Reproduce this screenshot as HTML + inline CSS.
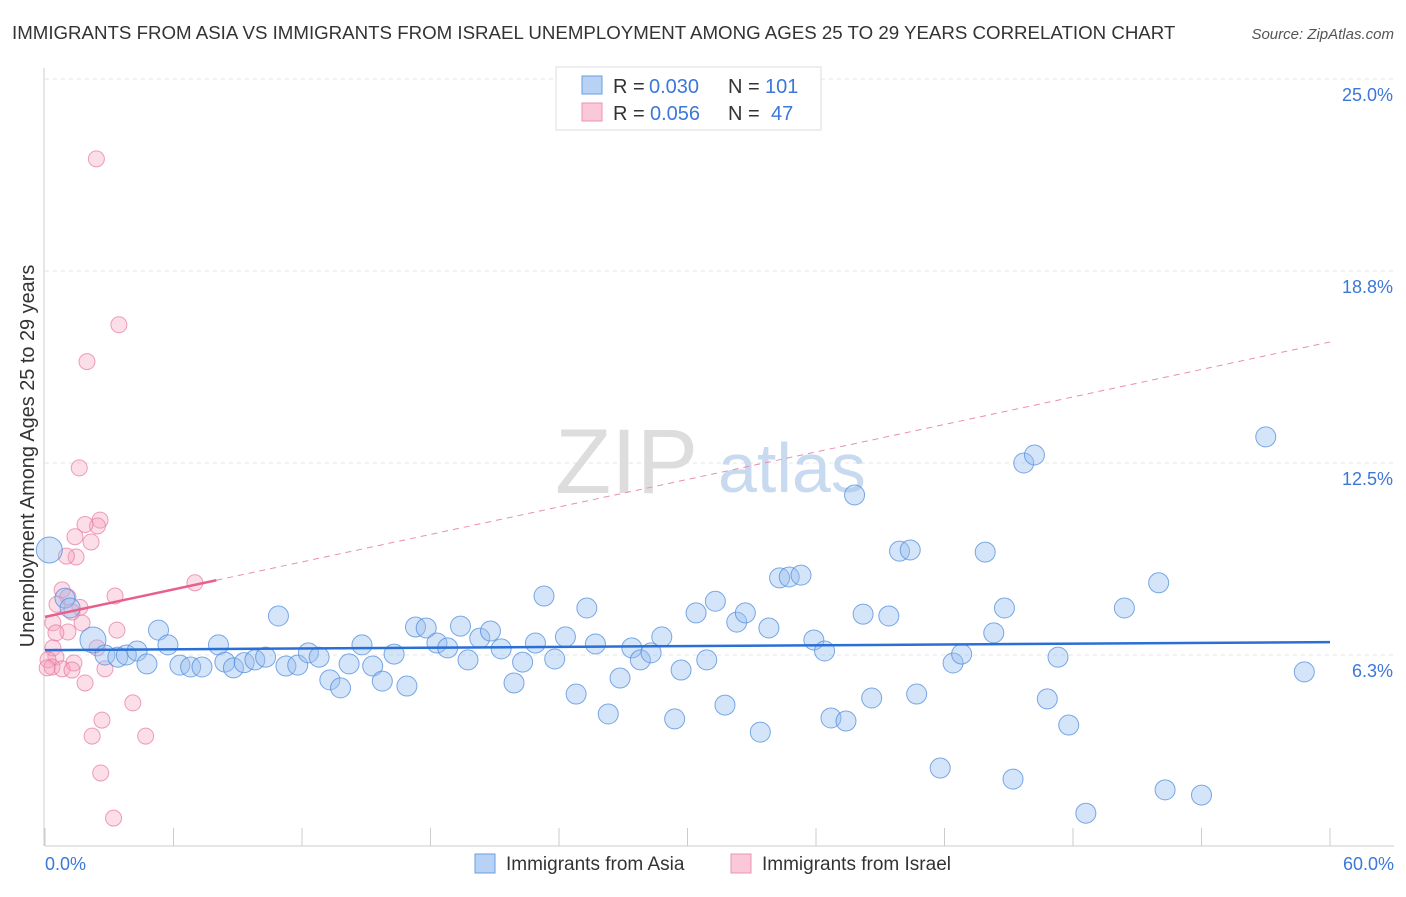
<!DOCTYPE html>
<html><head><meta charset="utf-8"><style>
body{margin:0;background:#fff;font-family:"Liberation Sans",sans-serif}
svg text{font-family:"Liberation Sans",sans-serif}
</style></head><body>
<svg width="1406" height="892" viewBox="0 0 1406 892">
<text x="12" y="39" font-size="18.7" fill="#333">IMMIGRANTS FROM ASIA VS IMMIGRANTS FROM ISRAEL UNEMPLOYMENT AMONG AGES 25 TO 29 YEARS CORRELATION CHART</text>
<text x="1394" y="39" font-size="15" fill="#555" font-style="italic" text-anchor="end">Source: ZipAtlas.com</text>
<g id="grid"></g>
<g><text x="555" y="493" font-size="92" fill="#ddd" font-family="Liberation Serif">ZIP</text><text x="718" y="492" font-size="70" fill="#c8daf0">atlas</text></g>
<g id="axes"></g>
<g id="pts"></g>
<g id="trends"></g>
<text transform="translate(34,456) rotate(-90)" font-size="19.9" fill="#333" text-anchor="middle">Unemployment Among Ages 25 to 29 years</text>
<g>
<rect x="556" y="67" width="265" height="63" fill="#fff" stroke="#ddd"/>
<rect x="582" y="76" width="20" height="18" fill="#b8d2f5" stroke="#6a9ee0"/>
<rect x="582" y="103" width="20" height="18" fill="#fac8d8" stroke="#e894b0"/>
<g font-size="20">
<text x="613" y="93" fill="#333">R =</text><text x="649" y="93" fill="#3b78d8">0.030</text>
<text x="728" y="93" fill="#333">N =</text><text x="765" y="93" fill="#3b78d8">101</text></g>
<g font-size="20">
<text x="613" y="120" fill="#333">R =</text><text x="650" y="120" fill="#3b78d8">0.056</text>
<text x="728" y="120" fill="#333">N =</text><text x="771" y="120" fill="#3b78d8">47</text></g>
</g>
<g>
<rect x="475" y="854" width="20" height="19" fill="#b8d2f5" stroke="#6a9ee0"/>
<text x="506" y="870" font-size="19" fill="#333">Immigrants from Asia</text>
<rect x="731" y="854" width="20" height="19" fill="#fac8d8" stroke="#e894b0"/>
<text x="762" y="870" font-size="19" fill="#333">Immigrants from Israel</text>
</g>
</svg>
<script>
const yTicks=[6.25,12.5,18.75,25];
const yTickLabels=["6.3%","12.5%","18.8%","25.0%"];
const xTicks=[0,6,12,18,24,30,36,42,48,54,60];
const asiaX=[0.2,0.93,2.24,1.17,2.8,3.4,3.8,4.3,4.76,5.3,5.74,6.3,6.8,7.33,8.1,8.4,8.8,9.3,9.8,10.3,10.9,11.25,11.8,12.3,12.8,13.3,13.8,14.2,14.8,15.3,15.75,16.3,16.9,17.3,17.8,18.3,18.8,19.4,19.75,20.3,20.8,21.3,21.9,22.3,22.9,23.3,23.8,24.3,24.8,25.3,25.7,26.3,26.85,27.4,27.8,28.3,28.8,29.4,29.7,30.4,30.9,31.3,31.75,32.3,32.7,33.4,33.8,34.3,34.75,35.3,35.9,36.4,36.7,37.4,37.8,38.2,38.6,39.4,39.9,40.4,40.7,41.8,42.4,42.8,43.9,44.3,44.8,45.2,45.7,46.2,46.8,47.3,47.8,48.6,50.4,52.0,52.3,54.0,57.0,58.8];
const asiaY=[9.67,8.1,6.74,7.78,6.25,6.18,6.25,6.38,5.96,7.06,6.58,5.92,5.86,5.86,6.58,6.02,5.83,6.0,6.09,6.18,7.52,5.89,5.92,6.32,6.18,5.44,5.18,5.96,6.58,5.89,5.4,6.28,5.24,7.16,7.13,6.64,6.48,7.19,6.09,6.8,7.03,6.45,5.34,6.02,6.64,8.17,6.12,6.84,4.98,7.78,6.61,4.33,5.5,6.48,6.09,6.32,6.84,4.17,5.76,7.62,6.09,8.0,4.62,7.32,7.62,3.74,7.13,8.76,8.79,8.85,6.74,6.38,4.2,4.1,11.46,7.58,4.85,7.52,9.63,9.67,4.98,2.57,5.99,6.28,9.6,6.97,7.78,2.21,12.5,12.76,4.82,6.18,3.97,1.1,7.78,8.6,1.86,1.69,13.35,5.7];
const asiaBig=[0,2];
const israelX=[2.4,3.45,1.96,1.6,2.57,2.45,1.87,1.4,2.15,1.45,1.0,7.0,3.27,0.8,1.07,0.56,1.63,1.26,0.37,1.73,3.36,1.07,0.51,2.43,0.37,0.51,0.14,0.33,0.8,1.35,1.26,2.8,1.87,4.1,2.66,2.2,4.7,2.6,3.2,0.1];
const israelY=[22.4,17.0,15.8,12.34,10.64,10.45,10.5,10.1,9.93,9.44,9.47,8.6,8.17,8.37,8.14,7.9,7.8,7.65,7.3,7.29,7.06,7.0,6.97,6.48,6.48,6.18,6.09,5.86,5.8,5.99,5.76,5.8,5.34,4.69,4.13,3.61,3.61,2.41,0.94,5.83];
const asiaTrend=[6.41,6.67];
const israelTrend=[7.49,16.44];
const israelSolidEnd=8.0;

const X=v=>45+v/60*1285, Y=v=>847-v*30.72;
const NS="http://www.w3.org/2000/svg";
function mk(t,a,p){const e=document.createElementNS(NS,t);for(const k in a)e.setAttribute(k,a[k]);p.appendChild(e);return e;}
const grid=document.getElementById('grid'),axes=document.getElementById('axes'),pts=document.getElementById('pts'),tr=document.getElementById('trends');
yTicks.forEach((t,i)=>{
 const l=mk('line',{x1:45,x2:1394,y1:Y(t),y2:Y(t),stroke:'#e4e4e4','stroke-dasharray':'4,4'},grid);
 
 
 const tx=mk('text',{x:1393,y:Y(t)+22,'font-size':18,fill:'#3b78d8','text-anchor':'end'},axes);
 tx.textContent=yTickLabels[i];
 
 
});
const ax=mk('line',{x1:45,x2:1394,y1:846,y2:846,stroke:'#ccc'},axes);


const ay=mk('line',{x1:44,x2:44,y1:68,y2:846,stroke:'#ccc'},axes);


xTicks.forEach(t=>{
 const l=mk('line',{x1:X(t),x2:X(t),y1:828,y2:846,stroke:'#ccc'},axes);
 
 
});
[[0,'0.0%','start',45],[60,'60.0%','end',1394]].forEach(a=>{
 const tx=mk('text',{x:a[3],y:870,'font-size':18,fill:'#3b78d8','text-anchor':a[2]},axes);
 tx.textContent=a[1];
 
 
});
israelX.forEach((x,i)=>{
 const c=mk('circle',{cx:X(x),cy:Y(israelY[i]),r:8,fill:'rgba(245,160,190,0.35)',stroke:'rgba(230,120,160,0.7)','stroke-width':1},pts);
 
 
});
asiaX.forEach((x,i)=>{
 const c=mk('circle',{cx:X(x),cy:Y(asiaY[i]),r:asiaBig.includes(i)?13:10,fill:'rgba(150,190,240,0.4)',stroke:'rgba(80,140,220,0.75)','stroke-width':1},pts);
 
 
});
const bl=mk('line',{x1:X(0),y1:Y(asiaTrend[0]),x2:X(60),y2:Y(asiaTrend[1]),stroke:'#2a6fd6','stroke-width':2.5},tr);


const pe=israelTrend[0]+(israelTrend[1]-israelTrend[0])*israelSolidEnd/60;
const pd=mk('line',{x1:X(israelSolidEnd),y1:Y(pe),x2:X(60),y2:Y(israelTrend[1]),stroke:'#e890b0','stroke-width':1,'stroke-dasharray':'6,5'},tr);


const ps=mk('line',{x1:X(0),y1:Y(israelTrend[0]),x2:X(israelSolidEnd),y2:Y(pe),stroke:'#e8608a','stroke-width':2.5},tr);


</script>
</body></html>
